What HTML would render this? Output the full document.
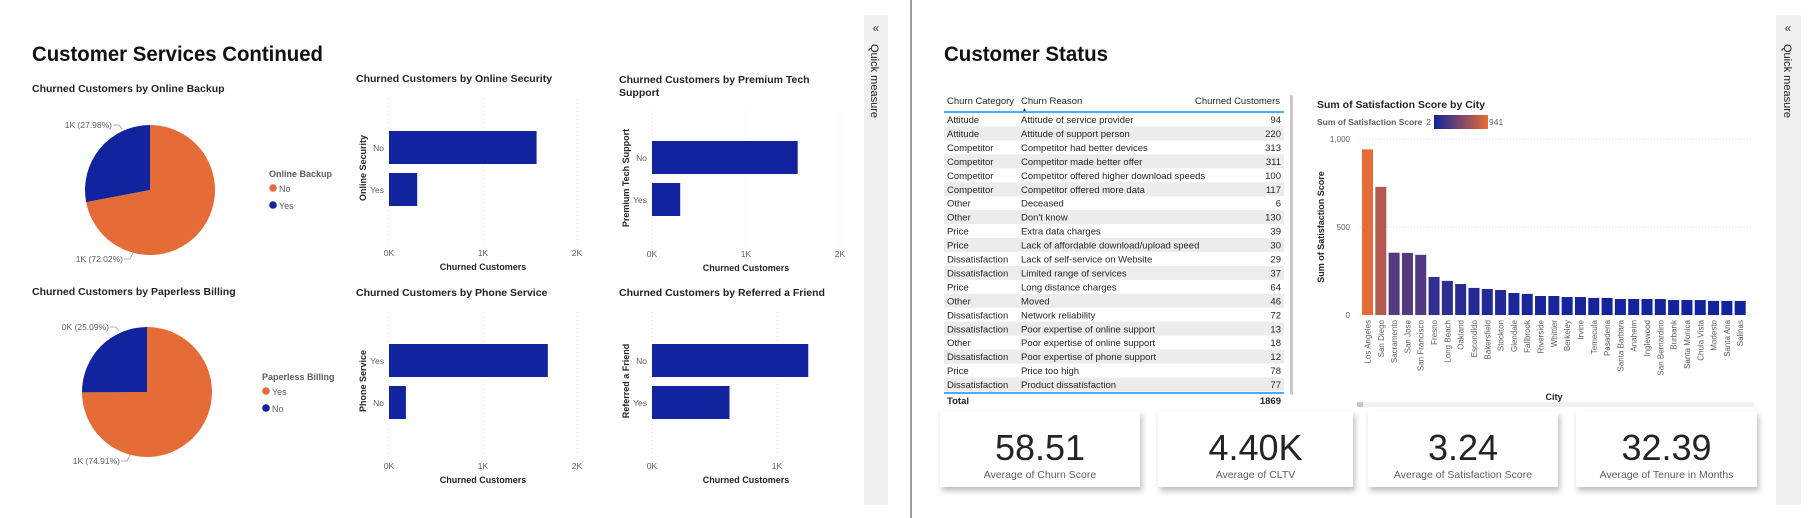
<!DOCTYPE html>
<html><head><meta charset="utf-8"><style>
html,body{margin:0;padding:0;background:#fff;}
svg{display:block;font-family:"Liberation Sans",sans-serif;}
</style></head><body>
<svg id="c" width="1814" height="518" viewBox="0 0 1814 518" xmlns="http://www.w3.org/2000/svg">
<rect x="0" y="0" width="1814" height="518" fill="#fff"/>
<line x1="911" y1="0" x2="911" y2="518" stroke="#9a9a9a" stroke-width="2"/>
<g>
<rect x="864" y="15" width="24" height="490" fill="#f0f0f0"/>
<text x="876" y="32" font-size="12" text-anchor="middle" fill="#333">«</text>
<text x="0" y="0" font-size="11" fill="#222" transform="translate(871,44) rotate(90)">Quick measure</text>
</g>
<g>
<rect x="1776" y="15" width="25" height="490" fill="#f0f0f0"/>
<text x="1788" y="32" font-size="12" text-anchor="middle" fill="#333">«</text>
<text x="0" y="0" font-size="11" fill="#222" transform="translate(1784,44) rotate(90)">Quick measure</text>
</g>
<text x="32" y="61" font-size="21" font-weight="bold" fill="#111" textLength="291" lengthAdjust="spacingAndGlyphs">Customer Services Continued</text>
<text x="944" y="61" font-size="21" font-weight="bold" fill="#111" textLength="164" lengthAdjust="spacingAndGlyphs">Customer Status</text>
</svg>
<script>
const NS="http://www.w3.org/2000/svg";
const svg=document.getElementById('c');
function el(t,a,p){const e=document.createElementNS(NS,t);for(const k in a)e.setAttribute(k,a[k]);(p||svg).appendChild(e);return e;}
function tx(s,a,p){const e=el('text',a,p);e.textContent=s;return e;}
const ORANGE="#e66c37",BLUE="#12239e";

// ---------- Pie data ----------
const pie1Labels=["No","Yes"];
const pie1Values=[72.02,27.98];
const pie1Text=["1K (72.02%)","1K (27.98%)"];
const pie2Labels=["Yes","No"];
const pie2Values=[74.91,25.09];
const pie2Text=["1K (74.91%)","0K (25.09%)"];

function pie(name,title,ty,cx,cy,r,labels,vals,texts,legTitle,lx,ly){
  const g=el('g',{});
  
  
  tx(title,{x:32,y:ty,'font-size':10.5,'font-weight':'bold',fill:'#252423'},g);
  const tot=vals.reduce((a,b)=>a+b,0);let a0=0;const cols=[ORANGE,BLUE];
  vals.forEach((v,i)=>{
    const a1=a0+v/tot*2*Math.PI;
    const x0=cx+r*Math.sin(a0),y0=cy-r*Math.cos(a0),x1=cx+r*Math.sin(a1),y1=cy-r*Math.cos(a1);
    const p=el('path',{d:`M${cx},${cy}L${x0},${y0}A${r},${r} 0 ${a1-a0>Math.PI?1:0} 1 ${x1},${y1}Z`,fill:cols[i]},g);
    
    
    a0=a1;
  });
  tx(texts[1],{x:cx-38,y:cy-r+3,'font-size':8.5,fill:'#605e5c','text-anchor':'end'},g);
  el('path',{d:`M${cx-37},${cy-r}h6l3,4`,stroke:'#999',fill:'none','stroke-width':0.8},g);
  tx(texts[0],{x:cx-27,y:cy+r+7,'font-size':8.5,fill:'#605e5c','text-anchor':'end'},g);
  el('path',{d:`M${cx-26},${cy+r+4}h6l3,-6`,stroke:'#999',fill:'none','stroke-width':0.8},g);
  const lg=el('g',{},g);
  
  
  tx(legTitle,{x:lx,y:ly,'font-size':9,'font-weight':'bold',fill:'#605e5c'},lg);
  labels.forEach((l,i)=>{
    el('circle',{cx:lx+4,cy:ly+11+i*17,r:3.8,fill:cols[i]},lg);
    tx(l,{x:lx+10,y:ly+15+i*17,'font-size':9,fill:'#605e5c'},lg);
  });
}
pie('pie-online-backup','Churned Customers by Online Backup',92,150,190,65,pie1Labels,pie1Values,pie1Text,'Online Backup',269,177);
pie('pie-paperless-billing','Churned Customers by Paperless Billing',295,147,392,65,pie2Labels,pie2Values,pie2Text,'Paperless Billing',262,380);

// ---------- Bar charts ----------
const secCats=["No","Yes"];const secVals=[1.57,0.30];
const techCats=["No","Yes"];const techVals=[1.55,0.30];
const phoneCats=["Yes","No"];const phoneVals=[1.69,0.18];
const refCats=["No","Yes"];const refVals=[1.25,0.62];
const ticks3=["0K","1K","2K"];const ticks2=["0K","1K"];

function hbar(name,titleLines,tx0,ty,x0,pxPerK,ticks,tickY,bandTop,cats,vals,yTitle,ytx){
  const g=el('g',{});
  
  
  titleLines.forEach((t,i)=>tx(t,{x:tx0,y:ty+i*13,'font-size':10.5,'font-weight':'bold',fill:'#252423'},g));
  const X=v=>x0+v*pxPerK;
  ticks.forEach((t,i)=>{
    el('line',{x1:X(i),x2:X(i),y1:bandTop-32,y2:tickY-10,stroke:'#e4e4e4','stroke-dasharray':'1,3'},g);
    tx(t,{x:X(i),y:tickY,'font-size':8.5,fill:'#605e5c','text-anchor':'middle'},g);
  });
  tx('Churned Customers',{x:X(0)+94,y:tickY+14,'font-size':9,'font-weight':'bold',fill:'#252423','text-anchor':'middle'},g);
  cats.forEach((c,i)=>{
    const y=bandTop+i*42;
    const r=el('rect',{x:X(0),y:y,width:vals[i]*pxPerK,height:33,fill:BLUE},g);
    
    
    tx(c,{x:X(0)-5,y:y+20,'font-size':8.5,fill:'#605e5c','text-anchor':'end'},g);
  });
  tx(yTitle,{x:0,y:0,'font-size':9,'font-weight':'bold',fill:'#252423','text-anchor':'middle',transform:`translate(${ytx},${bandTop+37}) rotate(-90)`},g);
}
hbar('bar-chart-online-security',['Churned Customers by Online Security'],356,82,389,94,ticks3,256,131,secCats,secVals,'Online Security',366);
hbar('bar-chart-premium-tech-support',['Churned Customers by Premium Tech','Support'],619,83,652,94,ticks3,257,141,techCats,techVals,'Premium Tech Support',629);
hbar('bar-chart-phone-service',['Churned Customers by Phone Service'],356,296,389,94,ticks3,469,344,phoneCats,phoneVals,'Phone Service',366);
hbar('bar-chart-referred-friend',['Churned Customers by Referred a Friend'],619,296,652,125,ticks2,469,344,refCats,refVals,'Referred a Friend',629);

// ---------- Table ----------
const tCat=["Attitude","Attitude","Competitor","Competitor","Competitor","Competitor","Other","Other","Price","Price","Dissatisfaction","Dissatisfaction","Price","Other","Dissatisfaction","Dissatisfaction","Other","Dissatisfaction","Price","Dissatisfaction"];
const tReason=["Attitude of service provider","Attitude of support person","Competitor had better devices","Competitor made better offer","Competitor offered higher download speeds","Competitor offered more data","Deceased","Don't know","Extra data charges","Lack of affordable download/upload speed","Lack of self-service on Website","Limited range of services","Long distance charges","Moved","Network reliability","Poor expertise of online support","Poor expertise of online support","Poor expertise of phone support","Price too high","Product dissatisfaction"];
const tVal=[94,220,313,311,100,117,6,130,39,30,29,37,64,46,72,13,18,12,78,77];
const tTotal=1869;
(function(){
  const g=el('g',{});
  
  
  const fs=9.5;
  tx('Churn Category',{x:947,y:104,'font-size':fs,fill:'#252423'},g);
  tx('Churn Reason',{x:1021,y:104,'font-size':fs,fill:'#252423'},g);
  tx('▲',{x:1022,y:111,'font-size':5,fill:'#252423'},g);
  tx('Churned Customers',{x:1280,y:104,'font-size':fs,fill:'#252423','text-anchor':'end'},g);
  el('line',{x1:944,x2:1284,y1:112,y2:112,stroke:'#118dff','stroke-width':1.5},g);
  tCat.forEach((c,i)=>{
    const y=112.5+i*13.95;
    if(i%2==1) el('rect',{x:944,y:y,width:340,height:13.95,fill:'#ececec'},g);
    const r=el('g',{},g);
    
    
    tx(c,{x:947,y:y+10.5,'font-size':fs,fill:'#252423'},r);
    tx(tReason[i],{x:1021,y:y+10.5,'font-size':fs,fill:'#252423'},r);
    tx(String(tVal[i]),{x:1281,y:y+10.5,'font-size':fs,fill:'#252423','text-anchor':'end'},r);
  });
  el('line',{x1:944,x2:1284,y1:393,y2:393,stroke:'#118dff','stroke-width':1.5},g);
  tx('Total',{x:947,y:404,'font-size':fs,'font-weight':'bold',fill:'#252423'},g);
  tx(String(tTotal),{x:1281,y:404,'font-size':fs,'font-weight':'bold',fill:'#252423','text-anchor':'end'},g);
  const sb=el('rect',{x:1290,y:95,width:3,height:300,fill:'#c8c8c8',rx:1.5},g);
  
  
})();

// ---------- City column chart ----------
const cities=["Los Angeles","San Diego","Sacramento","San Jose","San Francisco","Fresno","Long Beach","Oakland","Escondido","Bakersfield","Stockton","Glendale","Fallbrook","Riverside","Whittier","Berkeley","Irvine","Temecula","Pasadena","Santa Barbara","Anaheim","Inglewood","San Bernardino","Burbank","Santa Monica","Chula Vista","Modesto","Santa Ana","Salinas"];
const cityScores=[941,728,354,353,342,216,194,176,154,148,142,125,120,108,108,102,102,97,97,91,91,91,91,85,85,85,80,80,80];
const yTicks=[0,500,1000];
const yTickLabels=["0","500","1,000"];
(function(){
  const g=el('g',{});
  
  
  tx('Sum of Satisfaction Score by City',{x:1317,y:108,'font-size':10.5,'font-weight':'bold',fill:'#252423'},g);
  tx('Sum of Satisfaction Score',{x:1317,y:125,'font-size':8.5,'font-weight':'bold',fill:'#605e5c'},g);
  tx('2',{x:1431,y:125,'font-size':8.5,fill:'#605e5c','text-anchor':'end'},g);
  const defs=el('defs',{},g);
  const lgd=el('linearGradient',{id:'gr',x1:0,x2:1,y1:0,y2:0},defs);
  el('stop',{offset:0,'stop-color':BLUE},lgd);el('stop',{offset:1,'stop-color':ORANGE},lgd);
  const lb=el('rect',{x:1434,y:115,width:54,height:14,fill:'url(#gr)'},g);
  
  
  tx('941',{x:1489,y:125,'font-size':8.5,fill:'#605e5c'},g);
  const Y=v=>315-v*0.176;
  yTicks.forEach((t,i)=>{
    el('line',{x1:1357,x2:1751,y1:Y(t),y2:Y(t),stroke:'#ddd','stroke-dasharray':'1,2'},g);
    tx(yTickLabels[i],{x:1350,y:Y(t)+3,'font-size':8,fill:'#605e5c','text-anchor':'end'},g);
  });
  tx('Sum of Satisfaction Score',{x:0,y:0,'font-size':9,'font-weight':'bold',fill:'#252423','text-anchor':'middle',transform:'translate(1324,227) rotate(-90)'},g);
  const mn=Math.min(...cityScores),mx=Math.max(...cityScores);
  const c1=[0x12,0x23,0x9e],c2=[0xe6,0x6c,0x37];
  const slot=13.31,x0=1362;
  cities.forEach((c,i)=>{
    const t=(cityScores[i]-mn)/(mx-mn);
    const col=`rgb(${c1.map((v,k)=>Math.round(v+(c2[k]-v)*t)).join(',')})`;
    const r=el('rect',{x:x0+i*slot,y:Y(cityScores[i]),width:11,height:cityScores[i]*0.176,fill:col},g);
    
    
    tx(c,{x:0,y:0,'font-size':8,fill:'#605e5c','text-anchor':'end',transform:`translate(${x0+i*slot+8.5},320) rotate(-90)`},g);
  });
  tx('City',{x:1554,y:400,'font-size':9,'font-weight':'bold',fill:'#252423','text-anchor':'middle'},g);
  el('rect',{x:1357,y:402,width:397,height:5,fill:'#f0f0f0'},g);
  const th=el('rect',{x:1357,y:402,width:6,height:5,fill:'#c8c8c8'},g);
  
  
})();

// ---------- KPI cards ----------
const kpiValues=["58.51","4.40K","3.24","32.39"];
const kpiLabels=["Average of Churn Score","Average of CLTV","Average of Satisfaction Score","Average of Tenure in Months"];
const cardX=[940,1158,1368,1576],cardW=[200,195,190,181];
(function(){
  const defs=el('defs',{});
  const f=el('filter',{id:'sh',x:'-10%',y:'-10%',width:'130%',height:'140%'},defs);
  el('feDropShadow',{dx:2,dy:4,stdDeviation:3,'flood-color':'#000','flood-opacity':0.25},f);
  kpiValues.forEach((v,i)=>{
    const g=el('g',{});
    
    
    el('rect',{x:cardX[i],y:411,width:cardW[i],height:76,fill:'#fff',filter:'url(#sh)'},g);
    tx(v,{x:cardX[i]+cardW[i]/2,y:460,'font-size':36,fill:'#252423','text-anchor':'middle'},g);
    tx(kpiLabels[i],{x:cardX[i]+cardW[i]/2,y:478,'font-size':10.5,fill:'#605e5c','text-anchor':'middle'},g);
  });
})();
</script>
</body></html>
